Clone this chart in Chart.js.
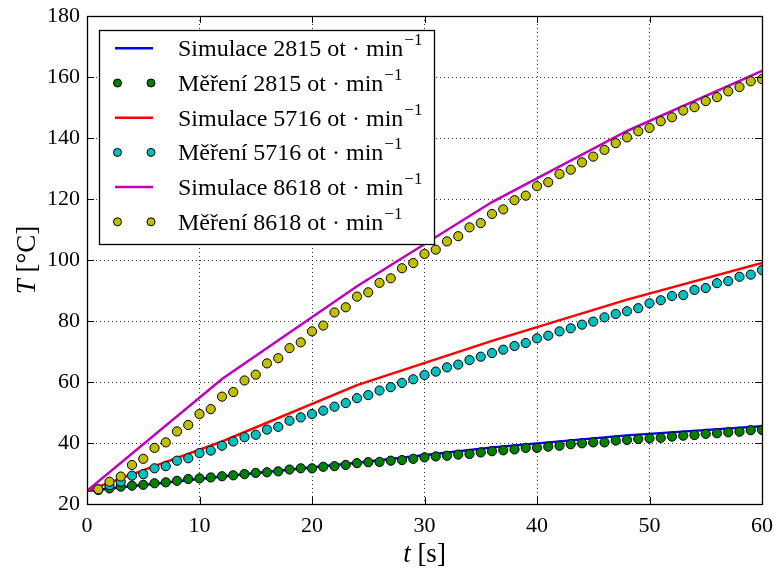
<!DOCTYPE html>
<html>
<head>
<meta charset="utf-8">
<script src="https://cdn.jsdelivr.net/npm/chart.js@4"></script>
<style>
  html, body { margin:0; padding:0; background:#fff; }
  canvas { display:block; }
</style>
</head>
<body>
<canvas id="tempChart" width="774" height="570"></canvas>
<script>
// simulation results (piecewise linear, every 12 s)
var timeSim = [0, 12, 24, 36, 48, 60];
var sim2815 = [24.3, 29, 33.5, 38.5, 42.5, 45.5];
var sim5716 = [24.3, 40.5, 59, 73.5, 87, 99];
var sim8618 = [24.3, 61, 91.4, 119, 142.3, 162];

// measurements, one per second
var timeMeas = [1,2,3,4,5,6,7,8,9,10,11,12,13,14,15,16,17,18,19,20,
  21,22,23,24,25,26,27,28,29,30,31,32,33,34,35,36,37,38,39,40,
  41,42,43,44,45,46,47,48,49,50,51,52,53,54,55,56,57,58,59,60];
var meas2815 = [24.6,25.1,25.7,26.0,26.3,26.8,27.1,27.6,28.2,28.4,28.7,29.1,29.4,29.8,30.2,30.4,30.7,31.3,31.7,31.7,
  32.2,32.4,32.8,33.4,33.7,33.8,34.2,34.4,34.8,35.3,35.6,35.8,36.2,36.4,36.9,37.3,37.6,37.9,38.4,38.4,
  38.8,39.1,39.6,39.9,40.2,40.2,40.8,41.0,41.3,41.5,41.7,42.1,42.4,42.6,43.0,43.2,43.5,43.7,44.2,44.3];
var meas5716 = [24.8,26.2,27.3,29.3,29.8,31.7,32.4,34.2,35.0,36.7,37.5,39.1,40.5,41.9,42.7,44.4,45.3,47.3,48.4,49.5,
  50.6,51.9,53.1,54.7,55.7,57.2,58.3,59.7,60.9,62.3,63.4,64.8,65.7,67.2,68.3,69.5,70.6,71.8,72.8,74.3,
  75.2,76.6,77.6,78.8,79.8,81.2,82.3,83.2,84.2,85.8,86.8,88.2,88.5,90.2,90.8,92.4,93.1,94.5,95.2,96.7];
var meas8618 = [24.8,27.3,29.0,32.8,34.8,38.4,40.2,43.8,45.9,49.5,51.1,55.2,56.7,60.5,62.4,66.1,67.8,71.1,73.0,76.6,
  78.5,82.8,84.5,88.0,89.4,92.5,94.0,97.3,99.0,102.0,103.4,106.1,107.8,110.7,112.1,115.1,116.6,119.6,121.1,124.2,
  125.5,128.2,129.6,132.0,133.9,136.1,138.3,140.2,142.2,143.3,145.5,146.8,149.0,150.1,152.1,153.4,155.3,156.7,158.6,159.3];

var labels = ['Simulace 2815 ot \u00b7 min', 'M\u011b\u0159en\u00ed 2815 ot \u00b7 min',
              'Simulace 5716 ot \u00b7 min', 'M\u011b\u0159en\u00ed 5716 ot \u00b7 min',
              'Simulace 8618 ot \u00b7 min', 'M\u011b\u0159en\u00ed 8618 ot \u00b7 min'];
var colors = ['#0000ff', '#008000', '#ff0000', '#00bfbf', '#bf00bf', '#bfbf00'];

var FONT = '"Liberation Serif", "DejaVu Serif", serif';

function toXY(xs, ys) {
  var out = [];
  for (var i = 0; i < xs.length; i++) out.push({x: xs[i], y: ys[i]});
  return out;
}

function simSet(i, ys) {
  return {
    label: labels[i], data: toXY(timeSim, ys), showLine: true,
    borderColor: colors[i], backgroundColor: colors[i], borderWidth: 2.5,
    pointRadius: 0, pointHoverRadius: 0, order: 6 - i, clip: 0, isLine: true
  };
}
function measSet(i, ys) {
  return {
    label: labels[i], data: toXY(timeMeas, ys), showLine: false,
    borderColor: '#000', backgroundColor: colors[i], borderWidth: 1,
    pointRadius: 4.6, pointStyle: 'circle', order: 6 - i, clip: 0, isLine: false
  };
}

var overlay = {
  id: 'overlay',
  afterDraw: function(chart) {
    var ctx = chart.ctx, a = chart.chartArea;
    var xs = chart.scales.x, ys = chart.scales.y;
    ctx.save();
    ctx.strokeStyle = '#000';
    ctx.lineWidth = 1;
    // inward ticks on all four sides
    ctx.beginPath();
    xs.ticks.forEach(function(t) {
      var px = Math.round(xs.getPixelForValue(t.value)) + 0.5;
      ctx.moveTo(px, a.bottom); ctx.lineTo(px, a.bottom - 7);
      ctx.moveTo(px, a.top); ctx.lineTo(px, a.top + 7);
    });
    ys.ticks.forEach(function(t) {
      var py = Math.round(ys.getPixelForValue(t.value)) + 0.5;
      ctx.moveTo(a.left, py); ctx.lineTo(a.left + 7, py);
      ctx.moveTo(a.right, py); ctx.lineTo(a.right - 7, py);
    });
    ctx.stroke();
    // frame
    ctx.lineWidth = 1.3;
    ctx.strokeRect(Math.round(a.left) + 0.5, Math.round(a.top) + 0.5,
                   Math.round(a.right - a.left), Math.round(a.bottom - a.top));

    // legend
    var bx = 99, by = 30, bw = 335, bh = 214;
    ctx.fillStyle = '#fff';
    ctx.fillRect(bx, by, bw, bh);
    ctx.lineWidth = 1.3;
    ctx.strokeRect(bx + 0.5, by + 0.5, bw, bh);
    var rowY = 48.3, rowStep = 34.7;
    chart.data.datasets.forEach(function(ds, i) {
      var y = rowY + i * rowStep;
      if (ds.isLine) {
        ctx.strokeStyle = ds.borderColor;
        ctx.lineWidth = 2.5;
        ctx.beginPath(); ctx.moveTo(115, y); ctx.lineTo(153, y); ctx.stroke();
      } else {
        [117.5, 151].forEach(function(cx) {
          ctx.beginPath(); ctx.arc(cx, y, 4, 0, Math.PI * 2);
          ctx.fillStyle = ds.backgroundColor; ctx.fill();
          ctx.strokeStyle = '#000'; ctx.lineWidth = 1; ctx.stroke();
        });
      }
      ctx.fillStyle = '#000';
      ctx.textBaseline = 'alphabetic';
      ctx.textAlign = 'left';
      ctx.font = '24px ' + FONT;
      ctx.fillText(ds.label, 178, y + 8);
      var w = ctx.measureText(ds.label).width;
      ctx.font = '17px ' + FONT;
      ctx.fillText('\u22121', 178 + w + 1, y - 3);
    });

    // axis titles
    ctx.fillStyle = '#000';
    ctx.textBaseline = 'alphabetic';
    ctx.font = 'italic 27px ' + FONT;
    var tW = ctx.measureText('t').width;
    ctx.font = '27px ' + FONT;
    var sW = ctx.measureText(' [s]').width;
    var cx = (a.left + a.right) / 2;
    var x0 = cx - (tW + sW) / 2;
    ctx.font = 'italic 27px ' + FONT;
    ctx.fillText('t', x0, 562);
    ctx.font = '27px ' + FONT;
    ctx.fillText(' [s]', x0 + tW, 562);

    ctx.translate(35, (a.top + a.bottom) / 2);
    ctx.rotate(-Math.PI / 2);
    ctx.font = 'italic 27px ' + FONT;
    var TW = ctx.measureText('T').width;
    ctx.font = '27px ' + FONT;
    var cW = ctx.measureText(' [\u00b0C]').width;
    var y0 = -(TW + cW) / 2;
    ctx.font = 'italic 27px ' + FONT;
    ctx.fillText('T', y0, 0);
    ctx.font = '27px ' + FONT;
    ctx.fillText(' [\u00b0C]', y0 + TW, 0);
    ctx.restore();
  }
};

Chart.defaults.color = '#000';

new Chart(document.getElementById('tempChart'), {
  type: 'scatter',
  data: {
    datasets: [
      simSet(0, sim2815), measSet(1, meas2815),
      simSet(2, sim5716), measSet(3, meas5716),
      simSet(4, sim8618), measSet(5, meas8618)
    ]
  },
  options: {
    responsive: false,
    animation: false,
    layout: { padding: { left: 0, top: 16, right: 12, bottom: 0 } },
    plugins: { legend: { display: false }, tooltip: { enabled: false } },
    scales: {
      x: {
        type: 'linear', min: 0, max: 60,
        ticks: { stepSize: 10, padding: 9, font: { family: FONT, size: 22 }, color: '#000' },
        grid: { color: '#000', lineWidth: 0.8, drawTicks: false },
        border: { display: true, color: '#000', dash: [1, 3] },
        afterFit: function(scale) {
          scale.height = 66;
          scale.paddingLeft = 0; scale.paddingRight = 0;
        }
      },
      y: {
        type: 'linear', min: 20, max: 180,
        ticks: { stepSize: 20, padding: 7, font: { family: FONT, size: 22 }, color: '#000' },
        grid: { color: '#000', lineWidth: 0.8, drawTicks: false },
        border: { display: true, color: '#000', dash: [1, 3] },
        afterFit: function(scale) {
          scale.width = 87;
          scale.paddingTop = 0; scale.paddingBottom = 0;
        }
      }
    }
  },
  plugins: [overlay]
});
</script>
</body>
</html>
